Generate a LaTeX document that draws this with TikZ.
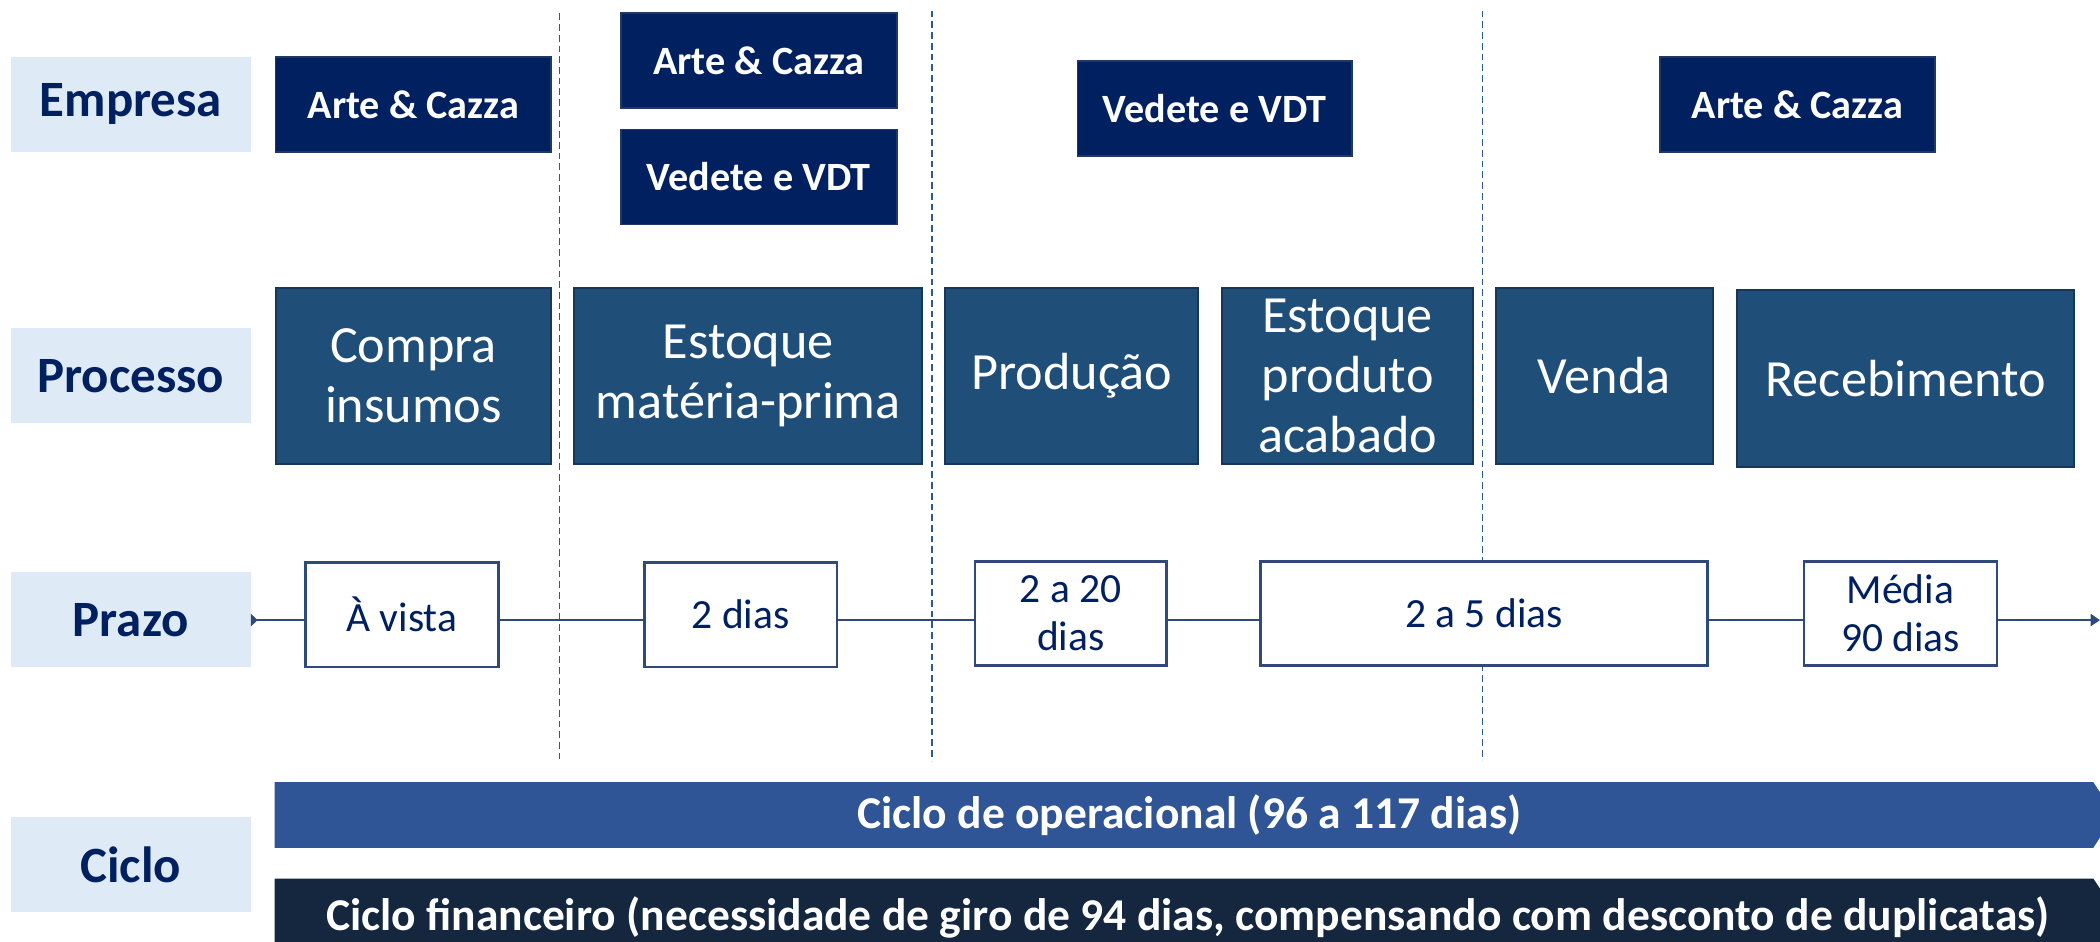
\documentclass[tikz,border=0pt]{standalone}
\usepackage{fontspec}
\setmainfont{Carlito}
\usetikzlibrary{arrows.meta}
\definecolor{navy}{HTML}{002060}
\definecolor{navyedge}{HTML}{1F3864}
\definecolor{lab}{HTML}{DEEAF6}
\definecolor{proc}{HTML}{1F4E79}
\definecolor{procedge}{HTML}{17375A}
\definecolor{lineblue}{HTML}{2F4A78}
\definecolor{dashblue}{HTML}{2E5A8A}
\definecolor{barblue}{HTML}{2F5597}
\definecolor{bardark}{HTML}{14273E}
\tikzset{
  lbl/.style={fill=lab, draw=none, anchor=north west, minimum width=179pt, minimum height=71pt,
     inner sep=0pt, text=navy, font=\fontsize{38}{44}\selectfont\bfseries},
  comp/.style={fill=navy, draw=navyedge, line width=1.2pt, anchor=north west, minimum height=71pt,
     inner sep=0pt, text=white, font=\fontsize{30}{36}\selectfont\bfseries},
  procbox/.style={fill=proc, draw=procedge, line width=1.5pt, anchor=north west, minimum height=132pt,
     inner sep=0pt, text=white, align=center, font=\fontsize{39}{45}\selectfont},
  prazobox/.style={fill=white, draw=lineblue, line width=2pt, anchor=north west, minimum height=78pt,
     inner sep=0pt, text=navy, align=center, font=\fontsize{31}{36}\selectfont},
  sep/.style={draw=dashblue, line width=1pt, dash pattern=on 5pt off 3pt},
  tl/.style={draw=lineblue, line width=1.3pt},
  bartext/.style={text=white, font=\fontsize{34}{40}\selectfont\bfseries}
}
\begin{document}
\begin{tikzpicture}[x=1pt,y=-1pt]
\useasboundingbox (0,0) rectangle (1568,703);
% separators
\draw[sep] (418,10) coordinate (s1a) -- (418,568) coordinate (s1b);
\draw[sep] (696,8) coordinate (s2a) -- (696,568) coordinate (s2b);
\draw[sep] (1107,8) coordinate (s3a) -- (1107,568) coordinate (s3b);
% row labels
\node[lbl] (lE) at (8,42) {Empresa};
\node[lbl] (lP) at (8,245) {Processo};
\node[lbl] (lZ) at (8,427) {Prazo};
\node[lbl] (lC) at (8,610) {Ciclo};
% companies
\node[comp, minimum width=206pt] (e1) at (205,42) {Arte \& Cazza};
\node[comp, minimum width=206pt] (e2) at (463,9) {Arte \& Cazza};
\node[comp, minimum width=206pt] (e3) at (463,96) {Vedete e VDT};
\node[comp, minimum width=205pt] (e4) at (804,45) {Vedete e VDT};
\node[comp, minimum width=205pt] (e5) at (1239,42) {Arte \& Cazza};
% processes
\node[procbox, minimum width=206pt] (p1) at (205,214) {Compra\\insumos};
\node[procbox, minimum width=260pt] (p2) at (428,214) {Estoque\\matéria-prima};
\node[procbox, minimum width=189pt] (p3) at (705,214) {Produção};
\node[procbox, minimum width=187pt] (p4) at (912,214) {Estoque\\produto\\acabado};
\node[procbox, minimum width=162pt] (p5) at (1116,214) {Venda};
\node[procbox, minimum width=252pt] (p6) at (1296,216) {Recebimento};
% prazo boxes
\node[prazobox, minimum width=144pt] (z1) at (227,419) {À vista};
\node[prazobox, minimum width=144pt] (z2) at (480,419) {2 dias};
\node[prazobox, minimum width=143pt] (z3) at (727,418) {2 a 20\\dias};
\node[prazobox, minimum width=334pt] (z4) at (940,418) {2 a 5 dias};
\node[prazobox, minimum width=144pt] (z5) at (1346,418) {Média\\90 dias};
\coordinate (zend) at (1568,463);
% timeline
\draw[tl, {Triangle[reversed,length=5pt,width=9pt]}-] (lZ.east |- 0,463) -- (z1.west |- 0,463);
\draw[tl] (z1.east |- 0,463) -- (z2.west |- 0,463);
\draw[tl] (z2.east |- 0,463) -- (z3.west |- 0,463);
\draw[tl] (z3.east |- 0,463) -- (z4.west |- 0,463);
\draw[tl] (z4.east |- 0,463) -- (z5.west |- 0,463);
\draw[tl, -{Triangle[length=7pt,width=9pt]}] (z5.east |- 0,463) -- (zend);
% cycle bars
\fill[barblue] (205,584) -- (1563,584) -- (1579,608.5) -- (1563,633) -- (205,633) -- cycle;
\node[bartext] (c1) at (888,609) {Ciclo de operacional (96 a 117 dias)};
\fill[bardark] (205,656) -- (1563,656) -- (1583,686) -- (1563,716) -- (205,716) -- cycle;
\node[bartext] (c2) at (887,685) {Ciclo financeiro (necessidade de giro de 94 dias, compensando com desconto de duplicatas)};
\end{tikzpicture}
\end{document}
